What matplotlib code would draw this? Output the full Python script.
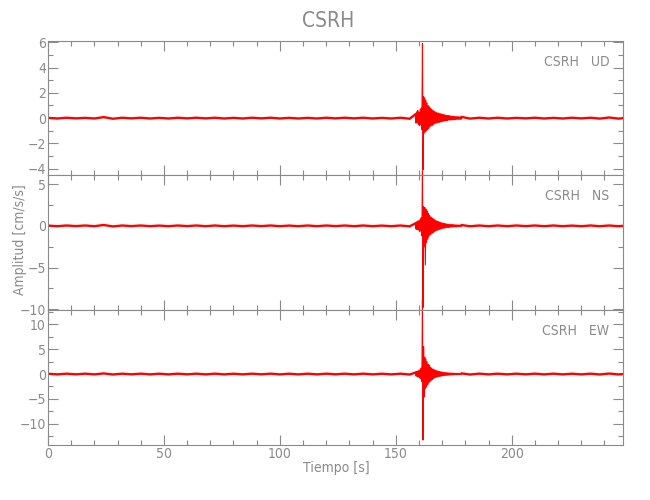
import matplotlib
matplotlib.use("Agg")
import matplotlib.pyplot as plt
from matplotlib.ticker import MultipleLocator
import numpy as np

plt.rcParams["font.family"] = ["DejaVu Sans"]
plt.rcParams["font.stretch"] = "condensed"
plt.rcParams["font.weight"] = "light"

GREY = "#8a8a8a"
TRACE = "#ff0000"

station = "CSRH"
components = ["UD", "NS", "EW"]

# sample times: coarse before/after the event, fine around it
t_pre = np.arange(0, 157, 4.0)
t_event = np.arange(158.5, 178.51, 0.25)
t_post = np.arange(182, 251, 4.0)

ud_pre = [0.02, -0.03, 0.03, -0.02, 0.02, -0.03, 0.08, -0.05, 0.03, -0.02,
          0.03, -0.03, 0.02, -0.03, 0.03, -0.02, 0.03, -0.02, 0.03, -0.03,
          0.02, -0.03, 0.03, -0.02, 0.03, -0.03, 0.02, -0.03, 0.02, -0.03,
          0.03, -0.02, 0.03, -0.02, 0.03, -0.03, 0.02, -0.03, 0.03, -0.05]
ud_event = [0.3, -0.4, 0.5, -0.35, 0.6, -0.5, 0.45, -0.6, 0.7, -0.5,
            0.8, -0.9, 5.9, -4.1, 1.7, -1.2, 1.6, -1.1, 1.4, -1.0,
            1.2, -0.9, 1.0, -0.8, 0.9, -0.7, 0.8, -0.6, 0.7, -0.6,
            0.6, -0.5, 0.55, -0.45, 0.5, -0.4, 0.45, -0.4, 0.4, -0.35,
            0.4, -0.35, 0.35, -0.3, 0.35, -0.3, 0.3, -0.25, 0.3, -0.25,
            0.25, -0.2, 0.25, -0.2, 0.2, -0.2, 0.2, -0.15, 0.2, -0.15,
            0.18, -0.15, 0.15, -0.15, 0.15, -0.12, 0.14, -0.12, 0.13, -0.12,
            0.12, -0.1, 0.12, -0.1, 0.11, -0.1, 0.1, -0.1, 0.1, -0.09,
            0.09]
ud_post = [-0.04, 0.03, -0.03, 0.03, -0.03, 0.02, -0.02, 0.03, -0.03, 0.02,
           -0.03, 0.03, -0.02, 0.03, -0.04, 0.05, -0.04, 0.03]

ns_pre = [0.03, -0.04, 0.04, -0.03, 0.04, -0.04, 0.1, -0.07, 0.04, -0.03,
          0.04, -0.04, 0.03, -0.04, 0.04, -0.03, 0.04, -0.04, 0.04, -0.04,
          0.03, -0.04, 0.04, -0.03, 0.04, -0.04, 0.03, -0.04, 0.04, -0.04,
          0.04, -0.03, 0.04, -0.04, 0.04, -0.04, 0.03, -0.04, 0.04, -0.06]
ns_event = [0.3, -0.4, 0.5, -0.45, 0.6, -0.5, 0.6, -0.7, 0.8, -0.6,
            1.0, -1.2, 6.6, -9.8, 2.3, -2.5, 2.2, -4.7, 2.0, -2.0,
            1.8, -1.6, 1.5, -1.3, 1.3, -1.1, 1.1, -1.0, 1.0, -0.9,
            0.9, -0.8, 0.8, -0.7, 0.7, -0.6, 0.6, -0.55, 0.55, -0.5,
            0.5, -0.45, 0.45, -0.4, 0.4, -0.35, 0.35, -0.3, 0.3, -0.3,
            0.28, -0.25, 0.25, -0.22, 0.22, -0.2, 0.2, -0.2, 0.18, -0.18,
            0.17, -0.16, 0.16, -0.15, 0.15, -0.14, 0.14, -0.13, 0.13, -0.12,
            0.12, -0.12, 0.11, -0.11, 0.1, -0.1, 0.1, -0.1, 0.1, -0.1,
            0.09]
ns_post = [-0.05, 0.04, -0.04, 0.04, -0.04, 0.04, -0.03, 0.04, -0.04, 0.04,
           -0.04, 0.03, -0.04, 0.04, -0.04, 0.04, -0.04, 0.04]

ew_pre = [0.06, -0.07, 0.07, -0.06, 0.07, -0.07, 0.12, -0.09, 0.07, -0.06,
          0.07, -0.07, 0.06, -0.07, 0.07, -0.06, 0.07, -0.07, 0.07, -0.07,
          0.06, -0.07, 0.07, -0.06, 0.07, -0.07, 0.06, -0.07, 0.07, -0.07,
          0.07, -0.06, 0.07, -0.07, 0.07, -0.07, 0.06, -0.07, 0.07, -0.1]
ew_event = [0.3, -0.4, 0.5, -0.5, 0.6, -0.6, 0.7, -0.8, 1.0, -0.9,
            1.2, -1.5, 15.0, -13.3, 5.5, -4.6, 3.4, -3.0, 3.0, -2.6,
            2.5, -2.2, 2.0, -1.8, 1.7, -1.5, 1.4, -1.3, 1.2, -1.1,
            1.0, -0.9, 0.9, -0.8, 0.8, -0.7, 0.7, -0.6, 0.6, -0.55,
            0.55, -0.5, 0.5, -0.45, 0.45, -0.4, 0.4, -0.35, 0.35, -0.35,
            0.3, -0.3, 0.3, -0.28, 0.28, -0.25, 0.25, -0.22, 0.22, -0.2,
            0.2, -0.2, 0.19, -0.18, 0.18, -0.17, 0.17, -0.16, 0.16, -0.15,
            0.15, -0.15, 0.14, -0.14, 0.14, -0.13, 0.13, -0.12, 0.12, -0.12,
            0.12]
ew_post = [-0.1, 0.08, -0.07, 0.07, -0.07, 0.07, -0.06, 0.07, -0.07, 0.07,
           -0.07, 0.06, -0.07, 0.07, -0.09, 0.1, -0.08, 0.07]

pre = [ud_pre, ns_pre, ew_pre]
event = [ud_event, ns_event, ew_event]
post = [ud_post, ns_post, ew_post]
ylims = [(-4.5, 6.1), (-10.1, 6.1), (-14.3, 12.9)]
y_major = [2, 5, 5]
y_minor = [1, 2.5, 2.5]

fig = plt.figure(figsize=(6.5, 5.0), dpi=100)
left, right = 48 / 650, 623 / 650
edges = [41, 175, 310, 445]

for i in range(3):
    bottom = 1 - edges[i + 1] / 500
    height = (edges[i + 1] - edges[i]) / 500
    ax = fig.add_axes([left, bottom, right - left, height])
    # quiet background drawn as a thicker band, the event as a thin trace
    ax.plot(np.concatenate([t_pre, t_event[:1]]), pre[i] + event[i][:1],
            color=TRACE, lw=1.7)
    ax.plot(np.concatenate([t_event[-1:], t_post]), event[i][-1:] + post[i],
            color=TRACE, lw=1.7)
    ax.plot(t_event, event[i], color=TRACE, lw=0.8, clip_on=False)
    ax.set_xlim(0, 248)
    ax.set_ylim(*ylims[i])
    ax.xaxis.set_major_locator(MultipleLocator(50))
    ax.xaxis.set_minor_locator(MultipleLocator(10))
    ax.yaxis.set_major_locator(MultipleLocator(y_major[i]))
    ax.yaxis.set_minor_locator(MultipleLocator(y_minor[i]))
    ax.tick_params(which="both", direction="in", top=True, right=True,
                   color=GREY, labelcolor=GREY, labelsize=10, width=0.8, pad=1.5)
    ax.tick_params(which="major", length=7)
    ax.tick_params(which="minor", length=3.6)
    for s in ax.spines.values():
        s.set_color(GREY)
        s.set_linewidth(0.8)
    if i < 2:
        ax.tick_params(labelbottom=False)
    ax.text(0.976, 0.846, f"{station}   {components[i]}", transform=ax.transAxes,
            ha="right", va="center", color=GREY, fontsize=10)

fig.text(0.505, 0.958, station, ha="center", va="center", color=GREY, fontsize=15)
fig.text(0.518, 0.064, "Tiempo [s]", ha="center", va="center", color=GREY, fontsize=10)
fig.text(0.031, 0.52, "Amplitud [cm/s/s]", ha="center", va="center", rotation=90,
         color=GREY, fontsize=10)

fig.savefig("out.png", dpi=100)
